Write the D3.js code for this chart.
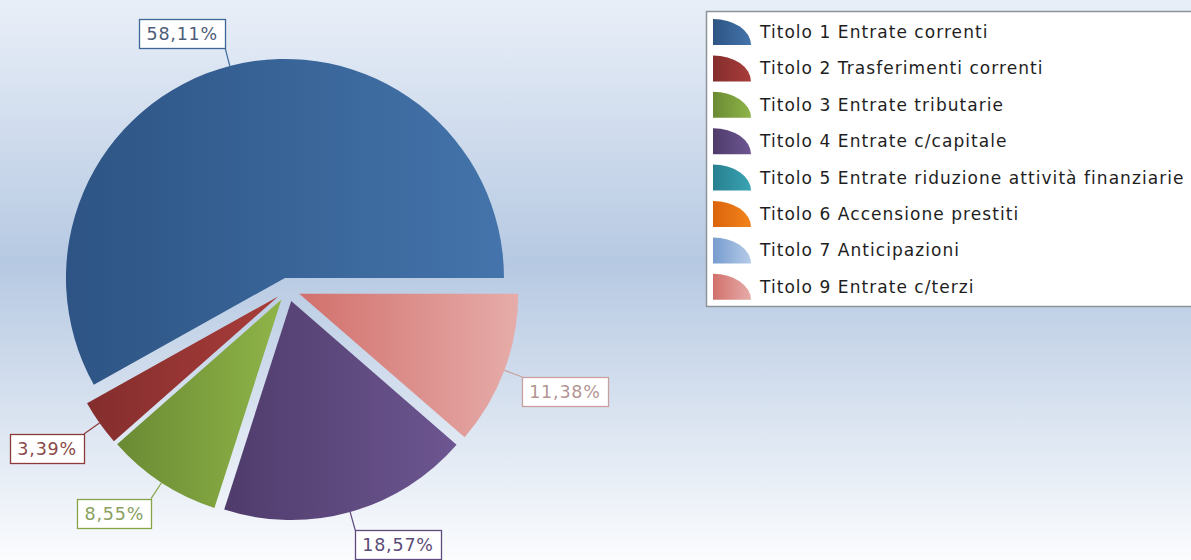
<!DOCTYPE html>
<html>
<head>
<meta charset="utf-8">
<script src="https://cdn.jsdelivr.net/npm/d3@7"></script>
<style>
  html, body { margin: 0; padding: 0; background: #fff; }
  svg { display: block; }
  text { font-family: "DejaVu Sans", sans-serif; }
</style>
</head>
<body>
<svg id="chart" width="1191" height="560"></svg>
<script>
// ---- data ----
const categories = [
  "Titolo 1 Entrate correnti",
  "Titolo 2 Trasferimenti correnti",
  "Titolo 3 Entrate tributarie",
  "Titolo 4 Entrate c/capitale",
  "Titolo 5 Entrate riduzione attività finanziarie",
  "Titolo 6 Accensione prestiti",
  "Titolo 7 Anticipazioni",
  "Titolo 9 Entrate c/terzi"
];
const values = [58.11, 3.39, 8.55, 18.57, 0, 0, 0, 11.38];
const colorsDark  = ["#2d5484", "#842d2d", "#6a8a33", "#4f3c6b", "#27808f", "#dc640c", "#779cce", "#d2706c"];
const colorsLight = ["#4474ab", "#a83d3a", "#8fb448", "#6d5691", "#3aa3b3", "#f2841c", "#b5cbe8", "#e6aca9"];
const labelBorder = ["#3c6797", "#8c3b3b", "#86a447", "#5e4a7e", "#2c8a98", "#dc6a14", "#8aa8d4", "#c9a09f"];
const labelText   = ["#4d5d79", "#8a4a4a", "#8aa05e", "#5b4b78", "#3a8a98", "#c66a20", "#7b95c0", "#b39593"];

// ---- layout ----
const W = 1191, H = 560;
const cx = 288, cy = 289.5, R = 219, explode = 12;

const svg = d3.select("#chart");
const defs = svg.append("defs");

// background gradient
const bg = defs.append("linearGradient").attr("id", "bg")
  .attr("x1", 0).attr("y1", 0).attr("x2", 0).attr("y2", 1);
bg.append("stop").attr("offset", 0).attr("stop-color", "#e9eff8");
bg.append("stop").attr("offset", 0.47).attr("stop-color", "#b6c9e2");
bg.append("stop").attr("offset", 1).attr("stop-color", "#fbfcfe");
svg.append("rect").attr("width", W).attr("height", H).attr("fill", "url(#bg)");

// slice gradients
categories.forEach((c, i) => {
  const g = defs.append("linearGradient").attr("id", "g" + i)
    .attr("x1", 0).attr("y1", 0).attr("x2", 1).attr("y2", 0);
  g.append("stop").attr("offset", 0).attr("stop-color", colorsDark[i]);
  g.append("stop").attr("offset", 1).attr("stop-color", colorsLight[i]);
});

const data = categories.map((c, i) => ({ name: c, value: values[i], i }));

// counter-clockwise from 3 o'clock
const pie = d3.pie().sort(null).value(d => d.value)
  .startAngle(Math.PI / 2).endAngle(Math.PI / 2 - 2 * Math.PI);
const arcs = pie(data).filter(a => a.data.value > 0);
const arc = d3.arc().innerRadius(0).outerRadius(R);

const fmt = v => v.toFixed(2).replace(".", ",") + "%";

const pieG = svg.append("g").attr("transform", `translate(${cx},${cy})`);

arcs.forEach(a => {
  const mid = (a.startAngle + a.endAngle) / 2;
  const dx = Math.sin(mid), dy = -Math.cos(mid);
  const ox = dx * explode, oy = dy * explode;
  pieG.append("path")
    .attr("d", arc(a))
    .attr("transform", `translate(${ox},${oy})`)
    .attr("fill", `url(#g${a.data.i})`);
});

// labels
const labelG = svg.append("g");
arcs.forEach(a => {
  const i = a.data.i;
  const mid = (a.startAngle + a.endAngle) / 2;
  const dx = Math.sin(mid), dy = -Math.cos(mid);
  const px = cx + dx * (explode + R), py = cy + dy * (explode + R);
  const L = 19;
  const ex = px + dx * L, ey = py + dy * L;
  labelG.append("line")
    .attr("x1", px).attr("y1", py).attr("x2", ex).attr("y2", ey)
    .attr("stroke", labelBorder[i]).attr("stroke-width", 1.2);
  const t = labelG.append("text")
    .attr("font-size", 17.5)
    .attr("letter-spacing", 0.8)
    .attr("fill", labelText[i])
    .text(fmt(a.data.value));
  const tw = t.node().getComputedTextLength();
  const bw = tw + 14, bh = 29;
  const bx = dx < 0 ? ex - bw : ex;
  const by = dy < 0 ? ey - bh : ey;
  labelG.insert("rect", "text")
    .attr("x", Math.round(bx) + 0.5).attr("y", Math.round(by) + 0.5)
    .attr("width", Math.round(bw)).attr("height", bh)
    .attr("fill", "#ffffff").attr("stroke", labelBorder[i]).attr("stroke-width", 1.3);
  t.attr("x", bx + 7).attr("y", by + bh / 2 + 6.5);
});

// legend
const lx = 706, ly = 11, lw = 500, lh = 295, rowH = 36.4;
const leg = svg.append("g");
leg.append("rect")
  .attr("x", lx + 0.5).attr("y", ly + 0.5).attr("width", lw).attr("height", lh)
  .attr("fill", "#ffffff").attr("stroke", "#8e9399").attr("stroke-width", 1.5);

const iconArc = (x, y, w, h) =>
  `M${x},${y} A${w},${h} 0 0,1 ${x + w},${y + h} L${x},${y + h} Z`;

categories.forEach((c, i) => {
  const yc = ly + 21 + i * rowH;
  const gi = defs.append("linearGradient").attr("id", "li" + i)
    .attr("x1", 0).attr("y1", 0).attr("x2", 1).attr("y2", 0);
  gi.append("stop").attr("offset", 0).attr("stop-color", colorsDark[i]);
  gi.append("stop").attr("offset", 1).attr("stop-color", colorsLight[i]);
  leg.append("path")
    .attr("d", iconArc(lx + 7, yc - 13, 38, 26))
    .attr("fill", `url(#li${i})`);
  leg.append("text")
    .attr("x", lx + 54).attr("y", yc + 6)
    .attr("font-size", 17)
    .attr("letter-spacing", 1.05)
    .attr("fill", "#1e1e1e")
    .text(c);
});
</script>
</body>
</html>
